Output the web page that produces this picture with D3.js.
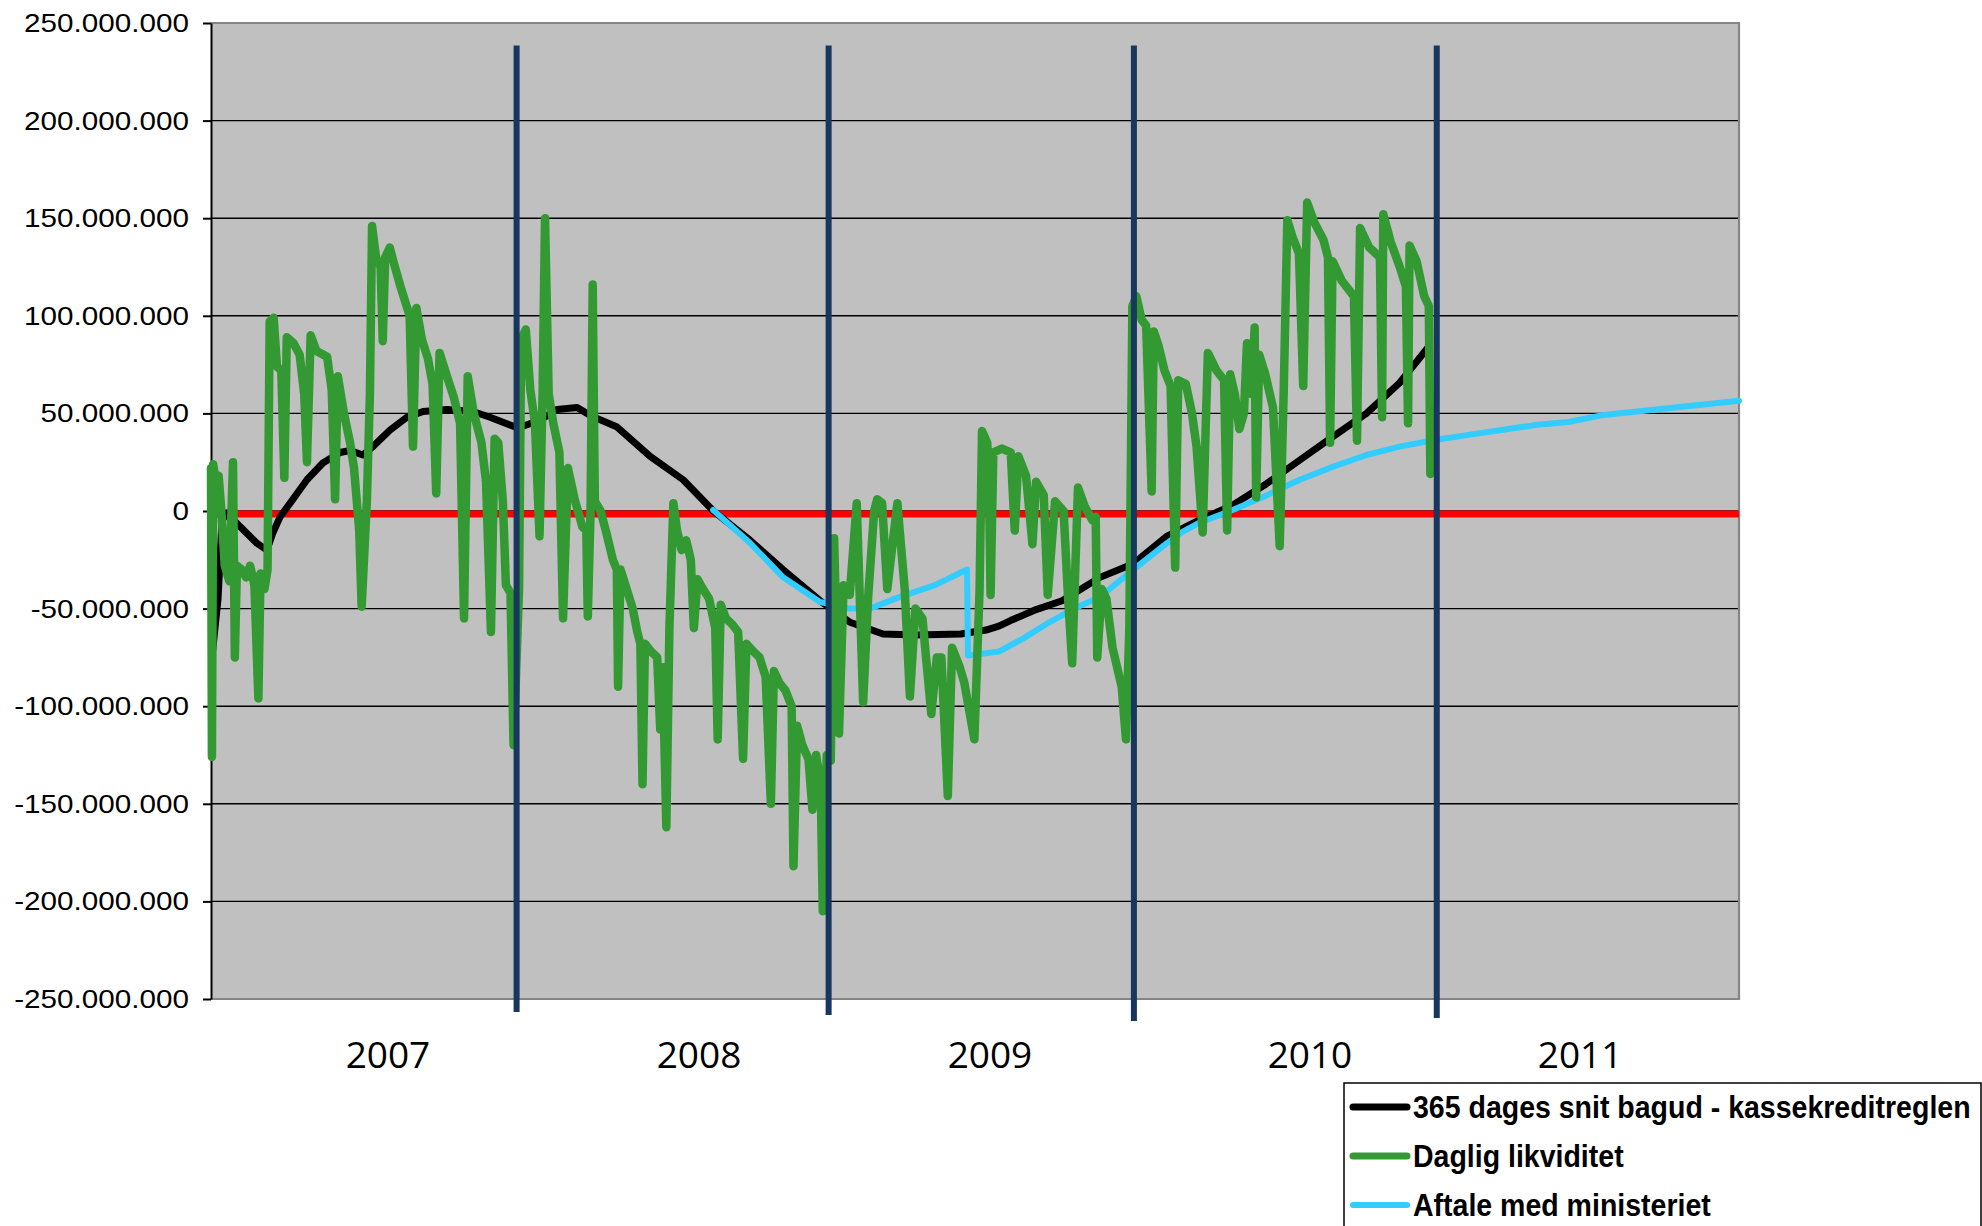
<!DOCTYPE html>
<html>
<head>
<meta charset="utf-8">
<script src="https://cdn.jsdelivr.net/npm/d3@7"></script>
<style>
  body { margin: 0; background: #fff; }
  svg { display: block; }
</style>
</head>
<body>
<div id="chart"></div>
<script>
// x = decimal year (2006.5 = 1 July 2006), y = million kr.
const daglig = [[2006.500,22],[2006.503,-126],[2006.507,24],[2006.515,16],[2006.525,18],[2006.533,2],[2006.545,-28],[2006.560,-36],[2006.572,25],[2006.578,-75],[2006.585,-28],[2006.600,-30],[2006.615,-34],[2006.628,-28],[2006.642,-38],[2006.655,-96],[2006.662,-32],[2006.675,-40],[2006.685,-30],[2006.692,97],[2006.705,99],[2006.716,74],[2006.730,72],[2006.740,17],[2006.748,89],[2006.770,86],[2006.790,80],[2006.805,60],[2006.814,25],[2006.826,90],[2006.845,82],[2006.880,79],[2006.895,62],[2006.906,6],[2006.915,69],[2006.935,50],[2006.955,35],[2006.968,22],[2006.985,-10],[2006.993,-49],[2007.010,5],[2007.020,60],[2007.027,146],[2007.040,130],[2007.055,125],[2007.062,87],[2007.070,130],[2007.085,135],[2007.100,126],[2007.120,115],[2007.150,100],[2007.161,33],[2007.172,104],[2007.190,88],[2007.210,78],[2007.225,65],[2007.237,9],[2007.248,81],[2007.270,70],[2007.295,58],[2007.315,45],[2007.328,-55],[2007.340,69],[2007.360,50],[2007.385,35],[2007.400,15],[2007.416,-62],[2007.428,37],[2007.440,35],[2007.455,5],[2007.465,-38],[2007.480,-42],[2007.490,-120],[2007.508,-40],[2007.515,88],[2007.530,93],[2007.545,62],[2007.560,45],[2007.575,-13],[2007.585,60],[2007.593,150],[2007.605,60],[2007.620,45],[2007.640,30],[2007.652,-55],[2007.668,22],[2007.690,6],[2007.715,-8],[2007.728,-10],[2007.733,-54],[2007.742,0],[2007.749,116],[2007.756,5],[2007.775,0],[2007.795,-12],[2007.815,-25],[2007.828,-30],[2007.832,-90],[2007.840,-30],[2007.860,-40],[2007.880,-50],[2007.895,-62],[2007.905,-68],[2007.912,-140],[2007.920,-68],[2007.940,-72],[2007.960,-75],[2007.970,-112],[2007.978,-80],[2007.990,-162],[2008.000,-60],[2008.013,4],[2008.025,-10],[2008.040,-20],[2008.055,-15],[2008.070,-25],[2008.080,-60],[2008.092,-35],[2008.110,-40],[2008.130,-45],[2008.150,-60],[2008.158,-117],[2008.168,-48],[2008.185,-55],[2008.205,-58],[2008.225,-62],[2008.241,-127],[2008.252,-68],[2008.275,-72],[2008.295,-75],[2008.315,-85],[2008.332,-150],[2008.342,-82],[2008.360,-88],[2008.380,-92],[2008.400,-100],[2008.406,-182],[2008.418,-110],[2008.435,-120],[2008.455,-127],[2008.468,-153],[2008.480,-125],[2008.495,-140],[2008.502,-205],[2008.515,-125],[2008.528,-128],[2008.539,-14],[2008.555,-114],[2008.570,-38],[2008.590,-43],[2008.613,4],[2008.634,-98],[2008.650,-45],[2008.670,0],[2008.680,6],[2008.696,4],[2008.713,-40],[2008.746,4],[2008.770,-40],[2008.787,-95],[2008.805,-50],[2008.828,-55],[2008.857,-104],[2008.875,-75],[2008.890,-75],[2008.911,-146],[2008.925,-70],[2008.950,-80],[2008.965,-88],[2008.998,-117],[2009.015,-40],[2009.023,41],[2009.040,35],[2009.045,20],[2009.051,-43],[2009.060,30],[2009.088,32],[2009.117,30],[2009.130,-10],[2009.142,28],[2009.167,18],[2009.188,-17],[2009.200,15],[2009.225,8],[2009.238,-43],[2009.262,5],[2009.290,0],[2009.304,-43],[2009.318,-78],[2009.337,12],[2009.360,2],[2009.385,-5],[2009.395,-3],[2009.400,-75],[2009.415,-40],[2009.430,-45],[2009.450,-70],[2009.480,-90],[2009.494,-117],[2009.505,-60],[2009.515,105],[2009.528,110],[2009.545,98],[2009.560,95],[2009.578,10],[2009.585,92],[2009.600,85],[2009.620,72],[2009.640,64],[2009.655,-29],[2009.665,67],[2009.690,65],[2009.710,50],[2009.725,33],[2009.745,-11],[2009.762,81],[2009.790,72],[2009.815,67],[2009.825,-10],[2009.835,70],[2009.850,60],[2009.865,42],[2009.880,50],[2009.890,86],[2009.905,60],[2009.915,94],[2009.920,7],[2009.930,80],[2009.950,70],[2009.975,53],[2009.997,-18],[2010.010,60],[2010.022,149],[2010.040,140],[2010.060,132],[2010.074,64],[2010.087,158],[2010.110,148],[2010.140,139],[2010.155,130],[2010.162,35],[2010.170,128],[2010.200,118],[2010.240,110],[2010.250,36],[2010.260,145],[2010.290,135],[2010.325,130],[2010.332,48],[2010.336,152],[2010.360,138],[2010.390,125],[2010.410,115],[2010.417,45],[2010.422,136],[2010.445,128],[2010.470,110],[2010.485,105],[2010.490,19]];

const snit = [[2006.503,-75],[2006.523,-45],[2006.536,-5],[2006.552,-1],[2006.595,-8],[2006.651,-16.6],[2006.683,-20],[2006.703,-11],[2006.726,-3],[2006.759,4],[2006.814,16],[2006.866,24.6],[2006.922,30],[2006.955,31],[2006.997,28.7],[2007.030,33],[2007.086,41.5],[2007.141,48],[2007.194,51],[2007.272,52],[2007.357,51],[2007.413,48],[2007.505,42.5],[2007.577,46.6],[2007.632,52],[2007.698,53],[2007.740,49],[2007.829,43],[2007.937,28],[2008.045,16],[2008.144,0],[2008.264,-15],[2008.372,-30],[2008.493,-46],[2008.591,-57],[2008.699,-63],[2008.807,-63.5],[2008.954,-63],[2008.994,-62],[2009.036,-61],[2009.078,-59],[2009.118,-56],[2009.200,-50.5],[2009.285,-46],[2009.409,-34],[2009.518,-27],[2009.627,-13],[2009.735,-4.6],[2009.843,3],[2009.954,14],[2010.062,26],[2010.170,38],[2010.281,50],[2010.389,65.6],[2010.481,83.5]];

const aftale = [[2008.143,0.5],[2008.264,-16.4],[2008.372,-34],[2008.493,-46.6],[2008.536,-48],[2008.591,-50],[2008.656,-50],[2008.754,-44],[2008.869,-38],[2008.974,-30],[2008.977,-74],[2009.078,-72],[2009.161,-65],[2009.243,-57],[2009.325,-50],[2009.409,-44],[2009.518,-30],[2009.627,-16.6],[2009.680,-10.6],[2009.735,-6],[2009.843,0.5],[2009.954,8],[2010.062,16],[2010.170,22.6],[2010.281,28.7],[2010.389,33],[2010.504,36.4],[2010.615,39],[2010.723,41.5],[2010.831,44],[2010.942,45.6],[2011.050,49],[2011.500,56.5]];

const yTicks = [-250, -200, -150, -100, -50, 0, 50, 100, 150, 200, 250];
const yearLabels = ["2007", "2008", "2009", "2010", "2011"];
const yearLabelPos = [2007.079, 2008.097, 2009.049, 2010.096, 2010.980];
const markerYears = [2007.500, 2008.521, 2009.520, 2010.511];
const markerTop = 238.5;
const markerBottom = [-256.7, -258.2, -261.3, -259.7];
const legendLabels = ["365 dages snit bagud - kassekreditreglen", "Daglig likviditet", "Aftale med ministeriet"];
const legendColors = ["#000000", "#339933", "#33CCFF"];

const W = 1982, H = 1226;
const margin = { top: 23, left: 211, right: 243, bottom: 227 };
const width = W - margin.left - margin.right;
const height = H - margin.top - margin.bottom;

const dk = d3.formatLocale({ decimal: ",", thousands: ".", grouping: [3], currency: ["", " kr."], minus: "-" });
const fmt = dk.format(",d");

const svg = d3.select("#chart").append("svg")
    .attr("width", W)
    .attr("height", H);

const g = svg.append("g")
    .attr("transform", `translate(${margin.left},${margin.top})`);

const x = d3.scaleLinear().domain([2006.5, 2011.5]).range([0, width]);
const y = d3.scaleLinear().domain([-250, 250]).range([height, 0]);

// plot area
g.append("rect")
    .attr("width", width)
    .attr("height", height)
    .attr("fill", "#c0c0c0");

// gridlines
g.selectAll(".grid")
    .data(yTicks.filter(d => d > -250 && d < 250))
    .enter().append("line")
    .attr("x1", 0).attr("x2", width)
    .attr("y1", d => y(d)).attr("y2", d => y(d))
    .attr("stroke", "#000")
    .attr("stroke-width", 1.4);

// frame (top, right, bottom grey)
g.append("path")
    .attr("d", `M0,${y(250)}H${width}V${y(-250)}H0`)
    .attr("fill", "none")
    .attr("stroke", "#858585")
    .attr("stroke-width", 2.2);

// y axis
const yAxis = d3.axisLeft(y)
    .tickValues(yTicks)
    .tickSize(8)
    .tickSizeOuter(0)
    .tickFormat(d => fmt(d * 1e6));

const ay = g.append("g").call(yAxis);
ay.select(".domain").attr("stroke", "#000").attr("stroke-width", 2);
ay.selectAll(".tick line").attr("stroke", "#000").attr("stroke-width", 2);
ay.selectAll(".tick text")
    .attr("font-family", "'Liberation Sans', Arial, sans-serif")
    .attr("font-size", 26.5)
    .attr("fill", "#000")
    .attr("x", -22 / 1.12)
    .attr("transform", "scale(1.12,1)");

const line = d3.line()
    .x(d => x(d[0]))
    .y(d => y(d[1]));

// zero line
g.append("path")
    .datum([[2006.5, 0], [2011.5, 0]])
    .attr("d", line)
    .attr("stroke", "#ff0000")
    .attr("stroke-width", 7)
    .attr("transform", "translate(0,3)")
    .attr("fill", "none");

g.append("path")
    .datum(snit)
    .attr("d", line)
    .attr("fill", "none")
    .attr("stroke", legendColors[0])
    .attr("stroke-width", 7)
    .attr("stroke-linejoin", "round")
    .attr("stroke-linecap", "round");

g.append("path")
    .datum(aftale)
    .attr("d", line)
    .attr("fill", "none")
    .attr("stroke", legendColors[2])
    .attr("stroke-width", 6)
    .attr("stroke-linejoin", "round")
    .attr("stroke-linecap", "round");

g.append("path")
    .datum(daglig)
    .attr("d", line)
    .attr("fill", "none")
    .attr("stroke", legendColors[1])
    .attr("stroke-width", 8.5)
    .attr("stroke-linejoin", "round")
    .attr("stroke-linecap", "round");

// vertical markers
g.selectAll(".marker")
    .data(markerYears)
    .enter().append("line")
    .attr("x1", d => x(d)).attr("x2", d => x(d))
    .attr("y1", y(markerTop))
    .attr("y2", (d, i) => y(markerBottom[i]))
    .attr("stroke", "#17375E")
    .attr("stroke-width", 6);

// year labels
g.selectAll(".year")
    .data(yearLabels)
    .enter().append("text")
    .attr("x", (d, i) => x(yearLabelPos[i]))
    .attr("y", 1068 - margin.top)
    .attr("text-anchor", "middle")
    .attr("font-family", "'Open Sans', sans-serif")
    .attr("font-size", 37)
    .attr("fill", "#000")
    .text(d => d);

// legend
const lg = svg.append("g");
lg.append("rect")
    .attr("x", 1344).attr("y", 1083)
    .attr("width", 637).attr("height", 200)
    .attr("fill", "#fff")
    .attr("stroke", "#000")
    .attr("stroke-width", 1.5);

const rows = lg.selectAll(".row")
    .data(legendLabels)
    .enter().append("g")
    .attr("transform", (d, i) => `translate(0,${1107 + i * 49})`);

rows.append("line")
    .attr("x1", 1353).attr("x2", 1407)
    .attr("stroke", (d, i) => legendColors[i])
    .attr("stroke-width", (d, i) => i === 2 ? 6 : 7)
    .attr("stroke-linecap", "round");

rows.append("text")
    .attr("transform", "translate(1413,11) scale(0.92,1)")
    .attr("font-family", "'Liberation Sans', Arial, sans-serif")
    .attr("font-weight", "bold")
    .attr("font-size", 31)
    .attr("fill", "#000")
    .text(d => d);
</script>
</body>
</html>
